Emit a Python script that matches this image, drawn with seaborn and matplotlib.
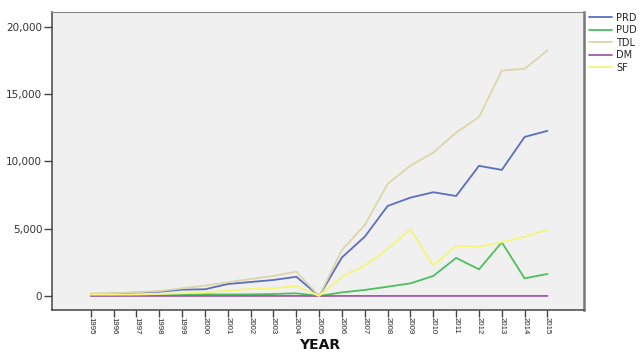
import numpy as np
import pandas as pd
import matplotlib
matplotlib.use("Agg")
import matplotlib.pyplot as plt
import seaborn as sns

years = list(range(1995, 2016))
prd = [150, 180, 250, 320, 470, 500, 890, 1040, 1190, 1430, 0,
       2870, 4410, 6690, 7310, 7710, 7430, 9670, 9370, 11820, 12270]
pud = [40, 50, 60, 80, 100, 120, 110, 120, 150, 200, 0,
       270, 450, 690, 940, 1490, 2830, 1980, 3990, 1310, 1640]
tdl = [200, 220, 280, 370, 570, 770, 1020, 1260, 1490, 1810, 0,
       3420, 5280, 8330, 9690, 10660, 12140, 13290, 16750, 16880, 18240]
dm = [5] * 10 + [0] + [5] * 10
sf = [100, 100, 110, 150, 200, 270, 400, 520, 570, 740, 0,
      1440, 2250, 3490, 4960, 2260, 3720, 3670, 3990, 4410, 4910]

series = ["PRD", "PUD", "TDL", "DM", "SF"]
colors = {"PRD": "#5b6fc0", "PUD": "#4dbf5e", "TDL": "#dcd6a8",
          "DM": "#a25aa6", "SF": "#f5f57a"}

df = pd.concat([
    pd.DataFrame({"YEAR": years, "value": vals, "series": name})
    for name, vals in zip(series, [prd, pud, tdl, dm, sf])
])

sns.set_style("white")
plt.rcParams["font.family"] = ["DejaVu Sans"]

fig = plt.figure(figsize=(6.43, 3.52), dpi=100)
ax = fig.add_axes([52/643, 1 - 310/352, (584 - 52)/643, (310 - 12)/352])
ax.set_facecolor("#f0f0f0")

sns.lineplot(data=df, x="YEAR", y="value", hue="series", hue_order=series,
             palette=colors, linewidth=1.3, ax=ax, legend=False)

ax.set_xlim(1993.3, 2016.6)
ax.set_ylim(-1040, 21100)
ax.set_yticks([0, 5000, 10000, 15000, 20000])
ax.set_yticklabels(["0", "5,000", "10,000", "15,000", "20,000"], fontsize=7.5, color="#333333")
ax.set_xticks(years)
ax.set_xticklabels([str(y) for y in years], rotation=-90, fontsize=5.6,
                   family=["Liberation Sans Narrow", "Liberation Sans", "DejaVu Sans"],
                   color="#222222")
ax.tick_params(axis="y", length=6, width=1, color="#444444", pad=1, left=True)
ax.tick_params(axis="x", length=5, width=1, color="#444444", pad=0, bottom=True)
ax.set_xlabel("")
ax.set_ylabel("")
fig.text(320/643, 1 - 345/352, "YEAR", fontsize=10, fontweight="bold",
         ha="center", va="center", color="#111111")

for side in ["left", "bottom"]:
    ax.spines[side].set_color("#444444")
    ax.spines[side].set_linewidth(1.1)
ax.spines["top"].set_color("#888888")
ax.spines["right"].set_color("#777777")
ax.spines["right"].set_linewidth(1.8)

handles = [plt.Line2D([], [], color=colors[s], lw=1.3) for s in series]
fig.legend(handles, series, loc="upper left", bbox_to_anchor=(585/643, 1 - 9/352),
           frameon=False, fontsize=7, handlelength=2.4, handletextpad=0.4,
           labelspacing=0.25, borderaxespad=0)

fig.savefig("out.png", dpi=100)
